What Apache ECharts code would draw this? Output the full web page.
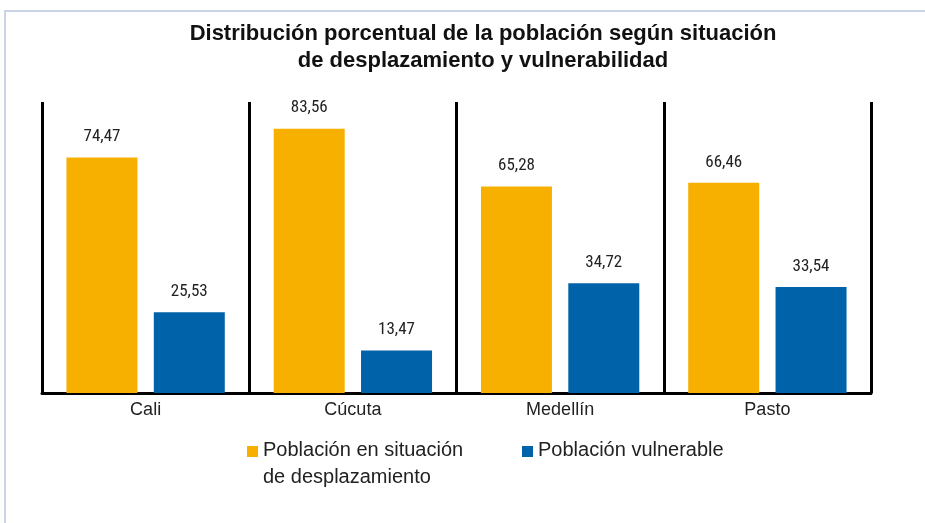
<!DOCTYPE html>
<html>
<head>
<meta charset="utf-8">
<style>
  html, body { margin: 0; padding: 0; background: #fff; }
  .frame {
    position: absolute; left: 4px; top: 10px; width: 921px; height: 513px;
    border-left: 2px solid #c9d5e5; border-top: 2px solid #c9d5e5;
  }
  #main { position: absolute; left: 0; top: 0; width: 925px; height: 523px; }
</style>
<script src="https://cdn.jsdelivr.net/npm/echarts@6/dist/echarts.min.js"></script>
</head>
<body>
<div class="frame"></div>
<div id="main"></div>
<script>
// datos
var ciudades = ['Cali', 'Cúcuta', 'Medellín', 'Pasto']
var serieNombres = ['Población en situación\nde desplazamiento', 'Población vulnerable']
var desplazamiento = [74.47, 83.56, 65.28, 66.46]
var vulnerable = [25.53, 13.47, 34.72, 33.54]

var narrow = '"Liberation Sans Narrow", "Arial Narrow", "Roboto Condensed", sans-serif'
var sans = '"Liberation Sans", Arial, sans-serif'
// icono cuadrado con punto invisible abajo para alinear con la primera línea
var icono = 'path://M0 0H11V11H0Z M0 36H11V36.01H0Z'

var etiqueta = {
  show: true, position: 'top', distance: 12,
  fontFamily: narrow, fontSize: 17, color: '#222',
  formatter: function (p) { return p.value.toFixed(2).replace('.', ',') }
}

var myChart = echarts.init(document.getElementById('main'))
myChart.setOption({
  color: ['#F7B000', '#0063A9'],
  animation: false,
  title: {
    text: 'Distribución porcentual de la población según situación\nde desplazamiento y vulnerabilidad',
    left: 478,
    textAlign: 'center',
    top: 15,
    textStyle: {
      fontFamily: sans,
      fontWeight: 'bold',
      fontSize: 22,
      lineHeight: 27,
      color: '#111'
    }
  },
  legend: [
    {
      data: [{ name: serieNombres[0], icon: icono }],
      left: 247, top: 437, padding: 0,
      itemWidth: 11, itemHeight: 36,
      textStyle: { fontFamily: sans, fontSize: 20, lineHeight: 27, color: '#222' }
    },
    {
      data: [{ name: serieNombres[1], icon: icono }],
      formatter: function (n) { return n + '\n' },
      left: 522, top: 437, padding: 0,
      itemWidth: 11, itemHeight: 36,
      textStyle: { fontFamily: sans, fontSize: 20, lineHeight: 27, color: '#222' }
    }
  ],
  grid: { left: 42, right: 54, top: 102, bottom: 130 },
  xAxis: {
    type: 'category',
    data: ciudades,
    axisLine: { lineStyle: { color: '#000', width: 3 } },
    axisTick: { show: false },
    splitLine: { show: true, lineStyle: { color: '#000', width: 3 } },
    axisLabel: { fontFamily: sans, fontSize: 18, color: '#222', margin: 8 }
  },
  yAxis: {
    type: 'value',
    min: 0,
    max: 92,
    show: false
  },
  series: [
    {
      name: serieNombres[0],
      type: 'bar',
      data: desplazamiento,
      barWidth: 71,
      barGap: '23%',
      label: etiqueta
    },
    {
      name: serieNombres[1],
      type: 'bar',
      data: vulnerable,
      barWidth: 71,
      label: etiqueta
    }
  ]
})
</script>
</body>
</html>
